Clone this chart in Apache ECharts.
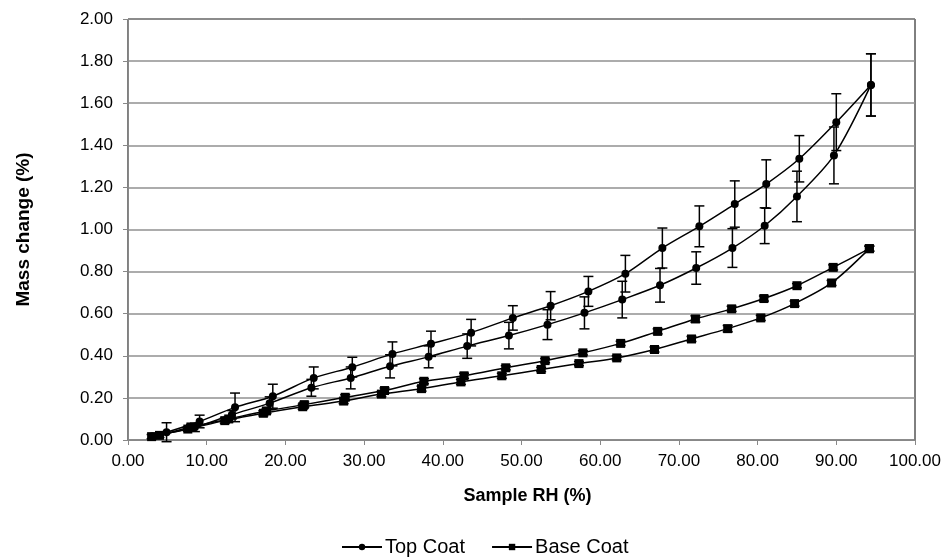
<!DOCTYPE html>
<html><head><meta charset="utf-8">
<script src="https://cdn.jsdelivr.net/npm/echarts@6/dist/echarts.min.js"></script>
<style>html,body{margin:0;padding:0;background:#fff}#c{width:945px;height:558px}</style>
</head><body><div id="c"></div><script>
// Top Coat – sorption (lower branch, ascending RH)
const topSorpX   = [3.1, 8.5, 13.2, 18.0, 23.3, 28.3, 33.3, 38.2, 43.1, 48.4, 53.3, 58.0, 62.8, 67.6, 72.2, 76.8, 80.9, 85.0, 89.7, 94.4];
const topSorpY   = [0.018, 0.06, 0.12, 0.175, 0.248, 0.295, 0.350, 0.395, 0.446, 0.496, 0.548, 0.604, 0.667, 0.735, 0.817, 0.912, 1.018, 1.157, 1.352, 1.687];
const topSorpErr = [0.01, 0.02, 0.02, 0.03, 0.04, 0.052, 0.055, 0.052, 0.058, 0.063, 0.071, 0.076, 0.087, 0.08, 0.077, 0.092, 0.085, 0.12, 0.135, 0.148];
// Top Coat – desorption (upper branch, descending RH)
const topDesX   = [94.4, 90.0, 85.3, 81.1, 77.1, 72.6, 67.9, 63.2, 58.5, 53.7, 48.9, 43.6, 38.5, 33.6, 28.5, 23.6, 18.4, 13.6, 9.1, 4.9];
const topDesY   = [1.687, 1.510, 1.336, 1.216, 1.121, 1.015, 0.912, 0.790, 0.706, 0.638, 0.580, 0.510, 0.457, 0.409, 0.346, 0.295, 0.208, 0.155, 0.088, 0.037];
const topDesErr = [0.148, 0.135, 0.11, 0.115, 0.11, 0.097, 0.095, 0.087, 0.071, 0.067, 0.058, 0.063, 0.06, 0.057, 0.047, 0.052, 0.057, 0.068, 0.03, 0.045];
// Base Coat – sorption (lower branch)
const baseSorpX   = [3.0, 7.6, 12.3, 17.2, 22.2, 27.4, 32.2, 37.3, 42.3, 47.5, 52.5, 57.3, 62.1, 66.9, 71.6, 76.2, 80.4, 84.7, 89.4, 94.2];
const baseSorpY   = [0.016, 0.052, 0.092, 0.127, 0.158, 0.185, 0.218, 0.244, 0.276, 0.305, 0.335, 0.363, 0.390, 0.430, 0.480, 0.529, 0.580, 0.648, 0.746, 0.909];
const baseSorpErr = [0.01, 0.01, 0.012, 0.012, 0.012, 0.012, 0.012, 0.012, 0.012, 0.012, 0.01, 0.01, 0.01, 0.012, 0.012, 0.015, 0.012, 0.012, 0.012, 0.012];
// Base Coat – desorption (upper branch)
const baseDesX   = [94.2, 89.6, 85.0, 80.8, 76.7, 72.1, 67.3, 62.6, 57.8, 53.0, 48.0, 42.7, 37.6, 32.6, 27.6, 22.4, 17.6, 12.8, 8.0, 4.0];
const baseDesY   = [0.909, 0.820, 0.733, 0.672, 0.623, 0.575, 0.516, 0.459, 0.414, 0.377, 0.343, 0.305, 0.279, 0.235, 0.203, 0.168, 0.138, 0.100, 0.062, 0.022];
const baseDesErr = [0.012, 0.012, 0.01, 0.012, 0.012, 0.015, 0.012, 0.01, 0.01, 0.01, 0.01, 0.012, 0.012, 0.012, 0.012, 0.012, 0.012, 0.012, 0.012, 0.01];

const seriesNames = ['Top Coat', 'Base Coat'];

function pts(xs, ys) { return xs.map((x, i) => [x, ys[i]]); }
function errPts(xs, ys, es) { return xs.map((x, i) => [x, ys[i], es[i]]); }

const FONT = "'Liberation Sans', Arial, sans-serif";

function lineSeries(name, symbol, size, xs, ys) {
  return {
    name: name, type: 'line', data: pts(xs, ys), smooth: 0.3,
    symbol: symbol, symbolSize: size, showSymbol: true,
    lineStyle: { color: '#000', width: 1.5 }, itemStyle: { color: '#000' },
    z: 3, animation: false
  };
}
function errSeries(xs, ys, es) {
  return {
    type: 'custom', data: errPts(xs, ys, es), z: 2, animation: false, silent: true,
    encode: { x: 0, y: 1 },
    renderItem: function (params, api) {
      const x = api.value(0), y = api.value(1), e = api.value(2);
      const top = api.coord([x, y + e]);
      const bot = api.coord([x, y - e]);
      const w = 5;
      const st = { stroke: '#000', lineWidth: 1.5 };
      return { type: 'group', children: [
        { type: 'line', shape: { x1: top[0], y1: top[1], x2: bot[0], y2: bot[1] }, style: st },
        { type: 'line', shape: { x1: top[0] - w, y1: top[1], x2: top[0] + w, y2: top[1] }, style: st },
        { type: 'line', shape: { x1: bot[0] - w, y1: bot[1], x2: bot[0] + w, y2: bot[1] }, style: st }
      ]};
    }
  };
}

const chart = echarts.init(document.getElementById('c'), null, { renderer: 'canvas' });
chart.setOption({
  backgroundColor: '#fff',
  animation: false,
  grid: { left: 128, right: 30, top: 19, bottom: 118, show: true, borderColor: '#000', borderWidth: 1 },
  xAxis: {
    type: 'value', min: 0, max: 100, interval: 10,
    name: 'Sample RH (%)', nameLocation: 'middle', nameGap: 47,
    nameTextStyle: { fontFamily: FONT, fontSize: 18, fontWeight: 'bold', color: '#000', padding: [0, 0, 0, 12] },
    axisLine: { show: true, lineStyle: { color: '#888', width: 1 } },
    axisTick: { show: true, length: 5, lineStyle: { color: '#888' } },
    axisLabel: { fontFamily: FONT, fontSize: 17, color: '#000', margin: 13, formatter: v => v.toFixed(2) },
    splitLine: { show: false }
  },
  yAxis: {
    type: 'value', min: 0, max: 2, interval: 0.2,
    name: 'Mass change (%)', nameLocation: 'middle', nameGap: 95, nameRotate: 90,
    nameTextStyle: { fontFamily: FONT, fontSize: 19, fontWeight: 'bold', color: '#000' },
    axisLine: { show: true, lineStyle: { color: '#888', width: 1 } },
    axisTick: { show: true, length: 5, lineStyle: { color: '#888' } },
    axisLabel: { fontFamily: FONT, fontSize: 17, color: '#000', margin: 15, formatter: v => v.toFixed(2) },
    splitLine: { show: true, lineStyle: { color: '#909090', width: 1.5 } }
  },
  legend: {
    data: seriesNames, top: 532, left: 336, itemGap: 26, itemWidth: 40, itemHeight: 8,
    selectedMode: false,
    textStyle: { fontFamily: FONT, fontSize: 20, color: '#000', padding: [0, 0, 0, -2] }
  },
  series: [
    errSeries(topSorpX, topSorpY, topSorpErr),
    errSeries(topDesX, topDesY, topDesErr),
    errSeries(baseSorpX, baseSorpY, baseSorpErr),
    errSeries(baseDesX, baseDesY, baseDesErr),
    lineSeries(seriesNames[0], 'circle', 8, topSorpX, topSorpY),
    lineSeries(seriesNames[0], 'circle', 8, topDesX, topDesY),
    lineSeries(seriesNames[1], 'rect', 9, baseSorpX, baseSorpY),
    lineSeries(seriesNames[1], 'rect', 9, baseDesX, baseDesY)
  ]
});
</script></body></html>
